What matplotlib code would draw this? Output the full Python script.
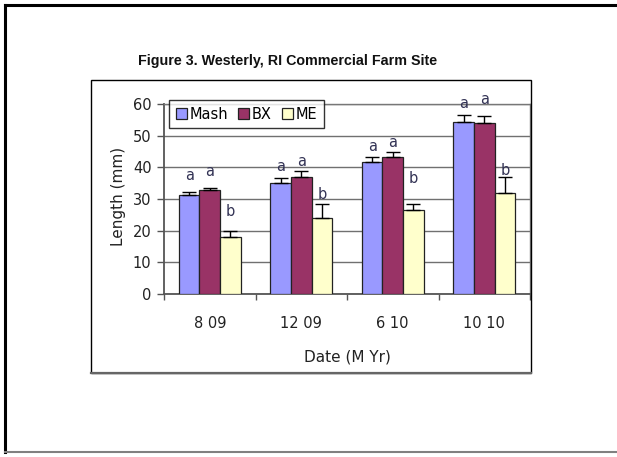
import matplotlib
matplotlib.use("Agg")
import matplotlib.pyplot as plt
from matplotlib.lines import Line2D
from matplotlib.patches import Rectangle
import numpy as np

# Data
dates = ["8 09", "12 09", "6 10", "10 10"]
series = ["Mash", "BX", "ME"]
mash = [31.2, 35.0, 41.8, 54.2]
bx = [32.7, 36.8, 43.2, 53.9]
me = [18.0, 24.0, 26.6, 31.8]
mash_err = [1.1, 1.7, 1.6, 2.3]
bx_err = [0.7, 2.2, 1.6, 2.3]
me_err = [1.9, 4.5, 1.9, 5.0]
mash_sig = ["a", "a", "a", "a"]
bx_sig = ["a", "a", "a", "a"]
me_sig = ["b", "b", "b", "b"]
# heights (in mm) at which the significance letters sit
mash_sig_y = [37.3, 40.2, 46.5, 60.0]
bx_sig_y = [38.8, 42.0, 47.9, 61.5]
me_sig_y = [26.0, 31.3, 36.5, 38.9]

colors = ["#9999FF", "#993366", "#FFFFCC"]

W, H = 617, 457
fig = plt.figure(figsize=(W / 100, H / 100), dpi=100)
fig.patch.set_facecolor("white")

def fx(px):
    return px / W

def fy(py):
    return 1 - py / H

# outer page frame
fig.add_artist(Line2D([fx(5), 1.0], [fy(5), fy(5)], color="black", lw=2.2,
                      transform=fig.transFigure))
fig.add_artist(Line2D([fx(5), fx(5)], [fy(5), fy(452)], color="black", lw=2.2,
                      transform=fig.transFigure))
fig.add_artist(Line2D([fx(5), 1.0], [fy(452), fy(452)], color="#808080", lw=1.5,
                      transform=fig.transFigure))

# chart area box
fig.add_artist(Rectangle((fx(91), fy(373)), fx(531) - fx(91), fy(80) - fy(373),
                         fill=False, edgecolor="black", lw=1.0,
                         transform=fig.transFigure))
fig.add_artist(Line2D([fx(91), fx(531)], [fy(373), fy(373)], color="#666666", lw=1.6,
                      transform=fig.transFigure))

ax = fig.add_axes([fx(164), fy(294), fx(530) - fx(164), fy(104) - fy(294)])

x = np.arange(len(dates))
bw = 0.225
vals = [mash, bx, me]
errs = [mash_err, bx_err, me_err]
sigs = [mash_sig, bx_sig, me_sig]
sig_ys = [mash_sig_y, bx_sig_y, me_sig_y]
handles = []
for i, (v, e, c) in enumerate(zip(vals, errs, colors)):
    pos = x + (i - 1) * bw
    b = ax.bar(pos, v, width=bw, color=c, edgecolor="#222222", linewidth=0.9,
               zorder=3, label=series[i])
    handles.append(b)
    ax.errorbar(pos, v, yerr=[np.zeros(len(e)), e], fmt="none", ecolor="black",
                elinewidth=1.0, capsize=5, capthick=1.0, zorder=4)
    for p, s, sy in zip(pos, sigs[i], sig_ys[i]):
        ax.text(p, sy, s, ha="center", va="center", fontsize=10.5,
                color="#333355", zorder=5)

ax.set_xlim(-0.5, len(dates) - 0.5)
ax.set_ylim(0, 60)
ax.set_yticks(np.arange(0, 61, 10))
ax.yaxis.grid(True, color="#707070", lw=1.0, zorder=0)
ax.set_axisbelow(True)
ax.set_xticks(x)
ax.set_xticklabels(dates)
ax.set_xticks(np.arange(-0.5, len(dates), 1.0), minor=True)
ax.tick_params(axis="x", which="major", length=0, pad=16, labelsize=10.5, colors="#222222")
ax.tick_params(axis="x", which="minor", length=4, width=1.0, direction="out", color="#555555")
ax.tick_params(axis="y", length=5, width=1.0, direction="out", pad=4, labelsize=10.5,
               colors="#222222")
ax.tick_params(axis="y", color="#555555")
for sp in ax.spines.values():
    sp.set_color("#777777")
    sp.set_linewidth(1.0)
ax.spines["left"].set_color("#555555")
ax.spines["bottom"].set_color("#555555")
ax.spines["left"].set_linewidth(1.3)
ax.spines["bottom"].set_linewidth(1.3)

fig.text(fx(118), fy(196), "Length (mm)", rotation=90, ha="center", va="center",
         fontsize=11, color="#222222")
fig.text(fx(347), fy(357), "Date (M Yr)", ha="center", va="center",
         fontsize=11, color="#222222")
fig.text(fx(288), fy(61), "Figure 3. Westerly, RI Commercial Farm Site",
         ha="center", va="center", fontsize=10.3, fontweight="bold",
         family=["Liberation Sans Narrow", "Liberation Sans", "DejaVu Sans"],
         color="#111111")

leg = ax.legend(handles=handles, labels=series, ncol=3, loc="upper left",
                bbox_to_anchor=(fx(169), fy(100)), bbox_transform=fig.transFigure,
                fontsize=10.5, frameon=True, fancybox=False, shadow=False,
                handlelength=0.75, handleheight=0.75, handletextpad=0.2,
                columnspacing=0.7, borderpad=0.45, borderaxespad=0)
leg.get_frame().set_edgecolor("black")
leg.get_frame().set_linewidth(1.0)
leg.set_zorder(10)

fig.savefig("out.png", dpi=100, facecolor="white")
